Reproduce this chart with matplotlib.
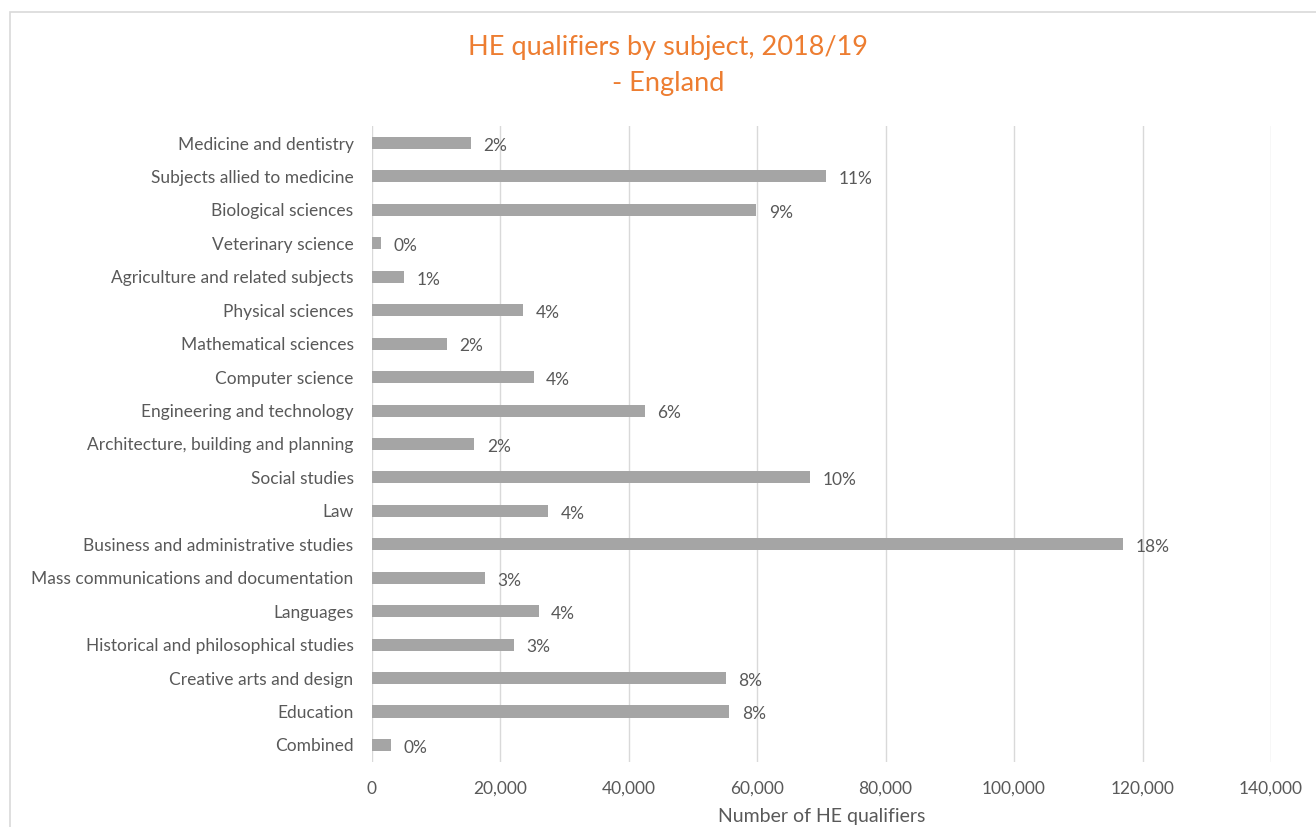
import matplotlib
matplotlib.use("Agg")
import matplotlib.pyplot as plt
from matplotlib.patches import Rectangle
from matplotlib.ticker import FuncFormatter

plt.rcParams['font.family'] = ['Lato', 'DejaVu Sans']

subjects = [
    "Medicine and dentistry",
    "Subjects allied to medicine",
    "Biological sciences",
    "Veterinary science",
    "Agriculture and related subjects",
    "Physical sciences",
    "Mathematical sciences",
    "Computer science",
    "Engineering and technology",
    "Architecture, building and planning",
    "Social studies",
    "Law",
    "Business and administrative studies",
    "Mass communications and documentation",
    "Languages",
    "Historical and philosophical studies",
    "Creative arts and design",
    "Education",
    "Combined",
]
qualifiers = [
    15500, 70800, 59900, 1400, 5000, 23600, 11700, 25200, 42500, 16000,
    68300, 27500, 117000, 17600, 26000, 22200, 55100, 55700, 3000,
]
x_ticks = [0, 20000, 40000, 60000, 80000, 100000, 120000, 140000]

total = sum(qualifiers)
shares = [v / total * 100 for v in qualifiers]

text_col = "#595959"
bar_col = "#A5A5A5"
grid_col = "#D9D9D9"

fig = plt.figure(figsize=(13.16, 8.27), dpi=100)
fig.patches.append(Rectangle((10 / 1316, -0.01), 1.1, 1 - 12 / 827 + 0.01,
                             transform=fig.transFigure, fill=False,
                             edgecolor="#D9D9D9", linewidth=1.2, zorder=0))

ax = fig.add_axes([0.2824, 0.079, 0.6834, 0.7683])
pos = list(range(len(subjects)))
ax.barh(pos, qualifiers, height=0.36, color=bar_col, zorder=3)

for p, v, s in zip(pos, qualifiers, shares):
    ax.annotate(f"{s:.0f}%", xy=(v, p), xytext=(9, -2), textcoords="offset points",
                ha="left", va="center", fontsize=12.5, color=text_col)

ax.set_ylim(len(subjects) - 0.5, -0.5)
ax.set_xlim(0, 140000)
ax.set_xticks(x_ticks)
ax.xaxis.set_major_formatter(FuncFormatter(lambda v, _: f"{v:,.0f}"))
ax.set_yticks(pos)
ax.set_yticklabels(subjects)
ax.tick_params(axis="both", length=0, labelsize=12.5, labelcolor=text_col)
ax.tick_params(axis="x", pad=14)
ax.tick_params(axis="y", pad=13)
ax.grid(axis="x", color=grid_col, linewidth=1.0, zorder=0)
for sp in ax.spines.values():
    sp.set_visible(False)

ax.set_xlabel("Number of HE qualifiers", fontsize=14, color=text_col, labelpad=8)

fig.text(668 / 1316, 1 - 47 / 827, "HE qualifiers by subject, 2018/19",
         ha="center", va="center", fontsize=19.5, color="#ED7D31")
fig.text(668 / 1316, 1 - 83 / 827, "- England",
         ha="center", va="center", fontsize=19.5, color="#ED7D31")

fig.savefig("out.png", dpi=100)
